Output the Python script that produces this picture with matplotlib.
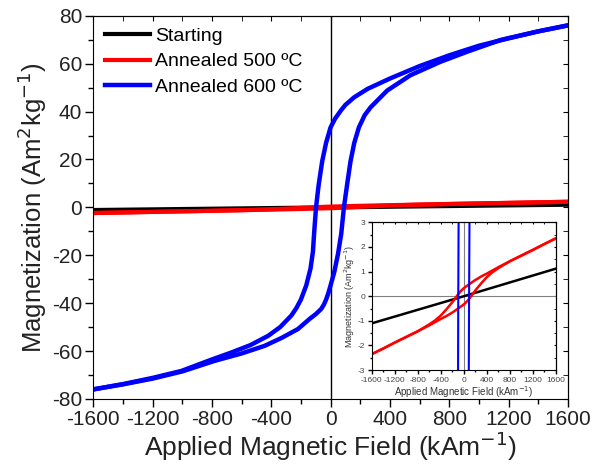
import matplotlib.pyplot as plt

plt.rcParams['font.family'] = ['Liberation Sans', 'DejaVu Sans']
plt.rcParams['axes.unicode_minus'] = False

# Annealed 600 C loop, descending field branch (kA/m, Am2/kg)
h600_desc = [1600, 1400, 1200, 1000, 800, 600, 400, 250, 160, 100, 70, 30, 0,
             -30, -56, -80, -98, -110, -119, -135, -164, -200, -230, -265, -340, -420,
             -540, -669, -800, -1006, -1200, -1400, -1600]
m600_desc = [76, 73.5, 70.6, 67.5, 63.5, 59, 53.8, 49.5, 46, 42.8, 40.5, 37, 33.4,
             27, 19.4, 9.5, 0, -10, -18.5, -25.5, -32.6, -38.5, -42, -45.2, -50, -53.6,
             -57.5, -60.6, -63.5, -68.3, -71.2, -73.8, -76]
# ascending field branch
h600_asc = [-1600, -1400, -1200, -1000, -782, -600, -444, -330, -220, -140, -100, -63, -45, -30, -15, 0,
            25, 50, 72, 90, 115, 135, 160, 191, 230, 270, 382,
            539, 741, 921, 1146, 1400, 1600]
m600_asc = [-76, -73.9, -71.5, -68.5, -64.1, -61, -57.8, -54.5, -50.8, -46.5, -44.6, -42.4, -40.6, -38.5, -35.8, -32.6,
            -27, -19.5, -11, 0, 11, 19.4, 27, 33.4, 38.5, 41.8, 48.8,
            55.2, 60.8, 65, 69.9, 73.5, 76]

# Annealed 500 C loop
h500_desc = [1600, 1400, 1200, 1000, 800, 600, 500, 400, 300, 200, 100, 0, -50, -100, -150, -200,
             -300, -400, -500, -600, -800, -1000, -1200, -1400, -1600]
m500_desc = [2.35, 2.12, 1.88, 1.65, 1.42, 1.18, 1.05, 0.92, 0.8, 0.66, 0.5, 0.33, 0.22, 0.08, -0.08, -0.24,
             -0.52, -0.78, -0.98, -1.14, -1.42, -1.65, -1.88, -2.12, -2.35]
h500_asc = [-1600, -1400, -1200, -1000, -800, -600, -500, -400, -300, -200, -100, 0, 50, 100, 150, 200,
            300, 400, 500, 600, 800, 1000, 1200, 1400, 1600]
m500_asc = [-2.35, -2.12, -1.88, -1.65, -1.42, -1.18, -1.05, -0.92, -0.8, -0.66, -0.5, -0.33, -0.22, -0.08, 0.08, 0.24,
            0.52, 0.78, 0.98, 1.14, 1.42, 1.65, 1.88, 2.12, 2.35]

# Starting sample
h_start = [-1600, -800, 0, 800, 1600]
m_start = [-1.1, -0.55, 0.0, 0.56, 1.12]

xticks = [-1600, -1200, -800, -400, 0, 400, 800, 1200, 1600]
xminor = [-1400, -1000, -600, -200, 200, 600, 1000, 1400]


def style_axes(ax, major, minor_y, size, length, color):
    ax.set_xlim(-1600, 1600)
    ax.set_xticks(xticks)
    ax.set_xticks(xminor, minor=True)
    ax.set_yticks(major)
    ax.set_yticks(minor_y, minor=True)
    ax.tick_params(direction='out', labelsize=size, length=length, width=1, pad=2,
                   labelcolor=color)
    ax.tick_params(which='minor', direction='out', length=length * 0.6, width=1)
    top = ax.secondary_xaxis('top')
    top.set_xticks(xticks)
    top.set_xticks(xminor, minor=True)
    top.tick_params(which='both', direction='in', labeltop=False, length=length * 0.6)
    right = ax.secondary_yaxis('right')
    right.set_yticks(major)
    right.set_yticks(minor_y, minor=True)
    right.tick_params(which='both', direction='in', labelright=False, length=length * 0.6)


fig = plt.figure(figsize=(5.94, 4.65), dpi=100)
ax = fig.add_axes([0.157, 0.142, 0.799, 0.824])

ax.axvline(0, color='black', linewidth=1, zorder=1)
ax.plot(h_start, m_start, color='black', linewidth=3, label='Starting')
ax.plot(h500_desc, m500_desc, color='red', linewidth=3, label='Annealed 500 ºC')
ax.plot(h500_asc, m500_asc, color='red', linewidth=3)
ax.plot(h600_desc, m600_desc, color='blue', linewidth=3.2, label='Annealed 600 ºC',
        solid_joinstyle='round')
ax.plot(h600_asc, m600_asc, color='blue', linewidth=3.2, solid_joinstyle='round')

ax.set_ylim(-80, 80)
style_axes(ax, list(range(-80, 81, 20)), list(range(-70, 80, 20)), 15, 6, '#222222')
ax.set_xlabel('Applied Magnetic Field (kAm$^{-1}$)', fontsize=19, labelpad=0, color='#222222')
ax.set_ylabel('Magnetization (Am$^2$kg$^{-1}$)', fontsize=18.5, labelpad=2, color='#222222')
ax.legend(loc='upper left', frameon=False, fontsize=14, handlelength=2.3,
          handletextpad=0.3, labelspacing=0.4, borderaxespad=0.2)

ins = fig.add_axes([0.626, 0.204, 0.31, 0.318])
ins.axhline(0, color='gray', linewidth=0.8, zorder=1)
ins.axvline(0, color='gray', linewidth=0.8, zorder=1)
ins.plot(h_start, m_start, color='black', linewidth=1.8)
ins.plot(h500_desc, m500_desc, color='red', linewidth=1.8)
ins.plot(h500_asc, m500_asc, color='red', linewidth=1.8)
ins.plot(h600_desc, m600_desc, color='blue', linewidth=1.5)
ins.plot(h600_asc, m600_asc, color='blue', linewidth=1.5)
ins.set_ylim(-3, 3)
style_axes(ins, list(range(-3, 4)), [v + 0.5 for v in range(-3, 3)], 6, 3, '#444444')
ins.set_xlabel('Applied Magnetic Field (kAm$^{-1}$)', fontsize=7, labelpad=0, color='#333333')
ins.set_ylabel('Magnetization (Am$^2$kg$^{-1}$)', fontsize=6.5, labelpad=0, color='#333333')

fig.savefig('out.png', dpi=100)
